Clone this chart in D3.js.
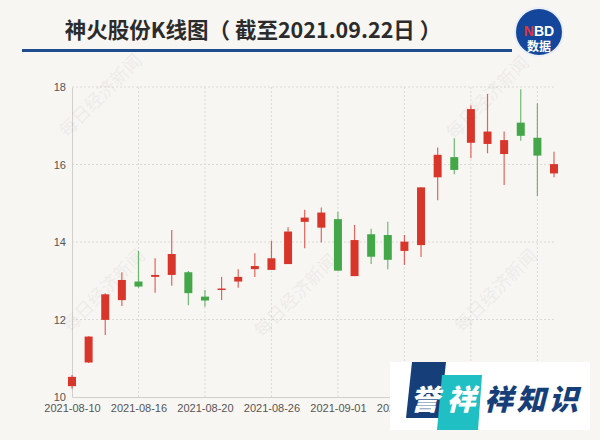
<!DOCTYPE html>
<html><head><meta charset="utf-8">
<script src="https://cdn.jsdelivr.net/npm/d3@7"></script>
<style>
html,body{margin:0;padding:0;background:#f8f6f3;}
svg{display:block;font-family:"Noto Sans CJK SC","Noto Sans",sans-serif;}
</style></head>
<body>
<svg id="c" width="600" height="440"></svg>
<script>
const dates = ["2021-08-10","2021-08-11","2021-08-12","2021-08-13","2021-08-16","2021-08-17","2021-08-18","2021-08-19","2021-08-20","2021-08-23","2021-08-24","2021-08-25","2021-08-26","2021-08-27","2021-08-30","2021-08-31","2021-09-01","2021-09-02","2021-09-03","2021-09-06","2021-09-07","2021-09-08","2021-09-09","2021-09-10","2021-09-13","2021-09-14","2021-09-15","2021-09-16","2021-09-17","2021-09-22"];
const openV  = [10.28,10.89,11.99,12.50,12.98,13.10,13.15,13.22,12.59,12.77,12.98,13.30,13.28,13.43,14.52,14.37,14.59,13.12,14.20,14.18,13.77,13.92,15.67,16.19,16.56,16.53,16.27,17.08,16.69,15.77];
const closeV = [10.52,11.56,12.65,13.02,12.85,13.15,13.69,12.68,12.49,12.80,13.10,13.38,13.58,14.27,14.63,14.76,13.26,14.05,13.62,13.54,14.01,15.41,16.25,15.86,17.43,16.85,16.63,16.74,16.23,16.01];
const lowV   = [10.21,10.88,11.60,12.35,12.82,12.69,12.87,12.37,12.33,12.50,12.82,13.10,13.28,13.43,13.84,13.99,13.26,13.12,13.43,13.30,13.41,13.61,15.08,15.75,16.16,16.29,15.47,16.61,15.19,15.67];
const highV  = [10.57,11.57,12.68,13.22,13.77,13.58,14.31,13.25,12.76,13.10,13.30,13.71,14.03,14.38,14.83,14.89,14.78,14.44,14.34,14.52,14.18,15.41,16.44,16.68,17.53,17.82,16.85,17.94,17.58,16.33];
const yTicks = [10,12,14,16,18];
const xTickLabels = ["2021-08-10","2021-08-16","2021-08-20","2021-08-26","2021-09-01","2021-09-07","2021-09-13","2021-09-17"];
const title = "神火股份K线图（ 截至2021.09.22日 ）";

const svg = d3.select("#c");
const x = d3.scalePoint().domain(dates).range([72, 554]);
const y = d3.scaleLinear().domain([10, 18]).range([397, 87]);
const UP = "#d9362b", DOWN = "#43a649";

// title
svg.append("text").attr("x", 253).attr("y", 38).attr("text-anchor","middle")
  .attr("font-size", 21.5).attr("font-weight", "bold").attr("fill", "#2b2b2b").text(title);
svg.append("rect").attr("x", 22).attr("y", 49).attr("width", 490).attr("height", 3).attr("fill", "#1e4c8d");

// NBD badge
svg.append("circle").attr("cx", 539).attr("cy", 32).attr("r", 24).attr("fill", "#14479b").attr("stroke","#e9eef7").attr("stroke-width",2);
const nbd = svg.append("text").attr("x", 539).attr("y", 36).attr("text-anchor","middle").attr("font-size", 14).attr("font-weight","bold").attr("font-family","Liberation Sans, Arial, sans-serif");
nbd.append("tspan").attr("fill","#e0343a").text("N");
nbd.append("tspan").attr("fill","#ffffff").text("BD");
svg.append("text").attr("x", 539).attr("y", 51).attr("text-anchor","middle").attr("font-size", 12).attr("font-weight","bold").attr("fill","#fff").text("数据");

// grid
const g = svg.append("g");
g.selectAll(".hg").data(yTicks.slice(1)).join("line")
  .attr("x1", 72).attr("x2", 555).attr("y1", d => y(d)).attr("y2", d => y(d))
  .attr("stroke", "#dcdad6").attr("stroke-dasharray", "2,2");
g.selectAll(".vg").data(xTickLabels.slice(1)).join("line")
  .attr("x1", d => x(d)).attr("x2", d => x(d)).attr("y1", 87).attr("y2", 397)
  .attr("stroke", "#dcdad6").attr("stroke-dasharray", "2,2");

// axes
const yAxis = d3.axisLeft(y).tickValues(yTicks).tickSize(0).tickPadding(6);
const ya = svg.append("g").attr("transform", "translate(72,0)").call(yAxis);
ya.select(".domain").attr("stroke", "#d2d0cc");
ya.selectAll("text").attr("font-size", 11).attr("fill", "#555").attr("font-family","Liberation Sans, Arial, sans-serif");

const xAxis = d3.axisBottom(x).tickValues(xTickLabels).tickSize(0).tickPadding(7);
const xa = svg.append("g").attr("transform", "translate(0,397)").call(xAxis);
xa.select(".domain").attr("stroke", "#d2d0cc");
xa.selectAll("text").attr("font-size", 11).attr("fill", "#555").attr("font-family","Liberation Sans, Arial, sans-serif");

// watermarks
const wm = [[105,100],[108,295],[300,300],[500,295],[492,102]];
svg.append("g").selectAll("text").data(wm).join("text")
  .attr("transform", d => `translate(${d[0]},${d[1]}) rotate(-45)`)
  .attr("text-anchor","middle").attr("font-size", 18).attr("fill", "#000").attr("opacity", 0.04)
  .text("每日经济新闻");

// candles
const idx = d3.range(dates.length);
const cg = svg.append("g");
const col = i => closeV[i] >= openV[i] ? UP : DOWN;
cg.selectAll(".wick").data(idx).join("line")
  .attr("x1", i => x(dates[i])).attr("x2", i => x(dates[i]))
  .attr("y1", i => y(highV[i])).attr("y2", i => y(lowV[i]))
  .attr("stroke", col).attr("stroke-width", 1.2).attr("opacity", 0.75);
const bw = 8;
cg.selectAll(".body").data(idx).join("rect")
  .attr("x", i => x(dates[i]) - bw/2).attr("width", bw)
  .attr("y", i => y(Math.max(openV[i], closeV[i])))
  .attr("height", i => Math.max(1.5, Math.abs(y(openV[i]) - y(closeV[i]))))
  .attr("fill", col);

// overlay badge bottom-right
const ob = svg.append("g");
ob.append("rect").attr("x", 390).attr("y", 362).attr("width", 200).attr("height", 68).attr("fill", "#ffffff");
ob.append("path").attr("d", "M412,362 L446,362 L440,418 L406,418 Z").attr("fill", "#163f7a");
ob.append("path").attr("d", "M442,375 L482,375 L478,430 L437,430 Z").attr("fill", "#1fbfc4");
ob.append("text").attr("x", 425).attr("y", 410).attr("text-anchor","middle").attr("font-size", 29).attr("font-weight","900").attr("fill","#fff").attr("font-style","italic").text("誉");
ob.append("text").attr("x", 461).attr("y", 410).attr("text-anchor","middle").attr("font-size", 29).attr("font-weight","900").attr("fill","#fff").attr("font-style","italic").text("祥");
ob.append("text").attr("x", 484).attr("y", 410).attr("font-size", 29).attr("font-weight","900").attr("fill","#163f7a").attr("font-style","italic").attr("textLength", 94).text("祥知识");
</script>
</body></html>
